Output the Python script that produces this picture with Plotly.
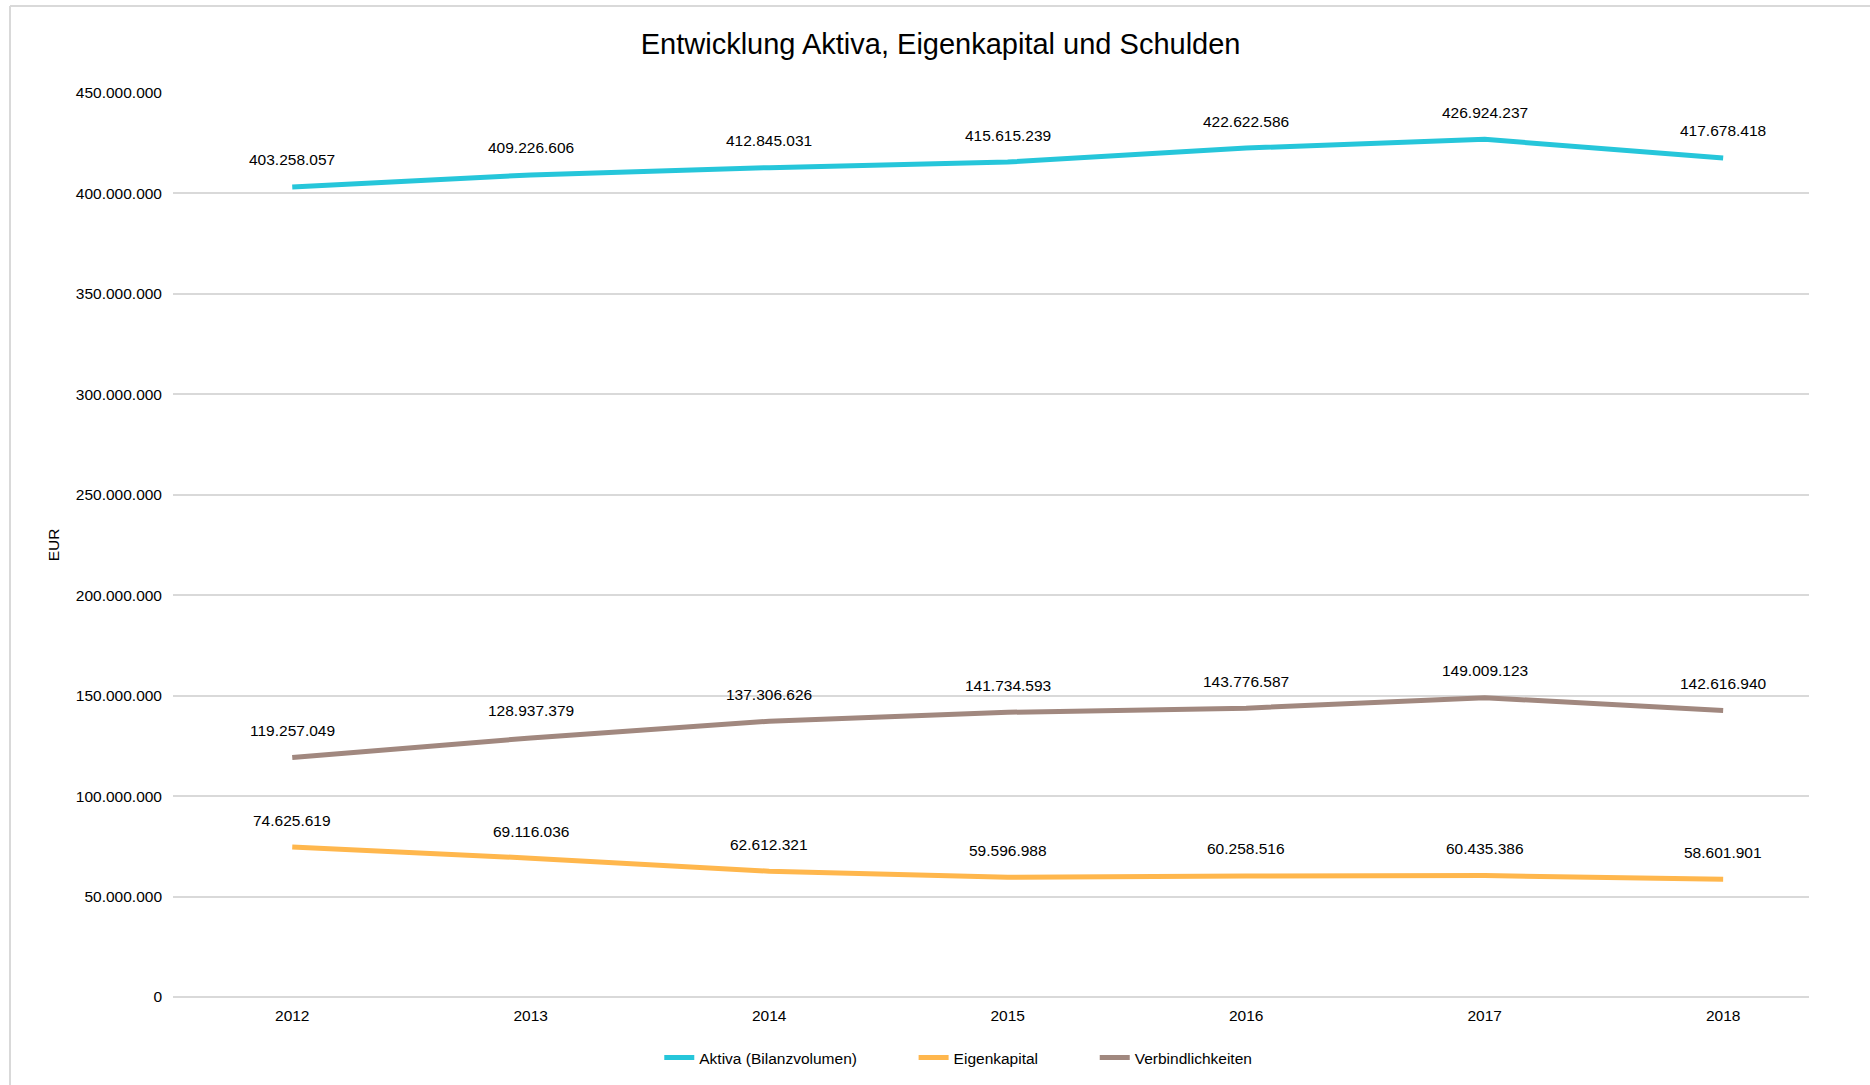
import plotly.graph_objects as go

years = ["2012", "2013", "2014", "2015", "2016", "2017", "2018"]
aktiva = [403258057, 409226606, 412845031, 415615239, 422622586, 426924237, 417678418]
eigenkapital = [74625619, 69116036, 62612321, 59596988, 60258516, 60435386, 58601901]
verbindlichkeiten = [119257049, 128937379, 137306626, 141734593, 143776587, 149009123, 142616940]

series = [
    ("Aktiva (Bilanzvolumen)", aktiva, "#26C6DA"),
    ("Eigenkapital", eigenkapital, "#FFB74D"),
    ("Verbindlichkeiten", verbindlichkeiten, "#A1887F"),
]

def fmt(v):
    return f"{v:,}".replace(",", ".")

FONT = "Liberation Sans, Arial, sans-serif"
PAD = "\u00a0" * 12
fig = go.Figure()
annotations = []
for k, (name, vals, col) in enumerate(series):
    label = name + (PAD if k < len(series) - 1 else "")
    fig.add_trace(go.Scatter(x=years, y=vals, mode="lines", name=label,
                             line=dict(color=col, width=5)))
    for i, v in enumerate(vals):
        annotations.append(dict(x=i, y=v, xref="x", yref="y", text=fmt(v), showarrow=False,
                                yshift=27, font=dict(size=15.5, color="#000000", family=FONT)))

fig.update_layout(
    width=1870, height=1085,
    paper_bgcolor="white", plot_bgcolor="white",
    margin=dict(l=173, r=61, t=93, b=88, autoexpand=False),
    separators=",.",
    font=dict(family=FONT, color="#000000", size=15.5),
    title=dict(text="Entwicklung Aktiva, Eigenkapital und Schulden", x=0.503, xanchor="center",
               y=1 - 44 / 1085, yanchor="middle", font=dict(size=29, family=FONT, color="#000000")),
    showlegend=True,
    legend=dict(orientation="h", x=0.480, xanchor="center", y=-(1058 - 997) / 904, yanchor="middle",
                font=dict(size=15.5, family=FONT), tracegroupgap=0),
    annotations=annotations,
    shapes=[
        dict(type="line", xref="paper", yref="paper", x0=(10 - 173) / 1636, x1=(1880 - 173) / 1636,
             y0=(1085 - 88 - 6) / 904, y1=(1085 - 88 - 6) / 904, line=dict(color="#d9d9d9", width=2)),
        dict(type="line", xref="paper", yref="paper", x0=(10 - 173) / 1636, x1=(10 - 173) / 1636,
             y0=(1085 - 88 - 6) / 904, y1=-0.2, line=dict(color="#d9d9d9", width=2)),
    ],
)
fig.update_xaxes(type="category", range=[-0.5, 6.36], showgrid=False, showline=False, zeroline=False,
                 ticks="", tickfont=dict(size=15.5, color="#000000"), ticklabelstandoff=7)
fig.update_yaxes(range=[0, 450000000], dtick=50000000, tickformat=",d", showgrid=True,
                 gridcolor="#d9d9d9", gridwidth=1.5, zeroline=True, zerolinecolor="#d9d9d9", zerolinewidth=1.5,
                 showline=False, ticks="", ticklabelstandoff=10,
                 tickfont=dict(size=15.5, color="#000000"),
                 title=dict(text="EUR", font=dict(size=15.5, color="#000000"), standoff=12))

fig.write_html("out.html")
